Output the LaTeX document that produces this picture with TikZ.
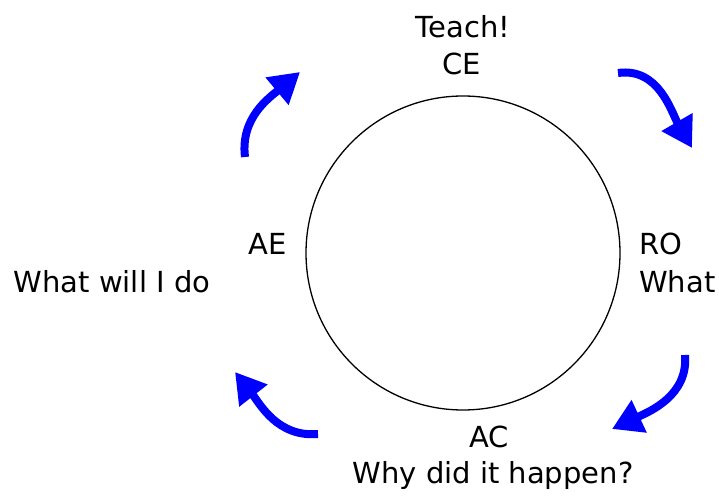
\documentclass[tikz,border=0pt]{standalone}
\usepackage{fontspec}
\setmainfont{DejaVu Sans}
\usetikzlibrary{arrows.meta, positioning}

\begin{document}
\begin{tikzpicture}
        [
        x=1pt, y=1pt,
        txt/.style={inner sep=0pt, font=\fontsize{29}{35}\selectfont},
        ring/.style={draw, circle, line width=1.3pt, minimum size=314pt, inner sep=0pt},
        arrow/.style={-{Triangle[length=30pt, width=34pt]}, line width=8pt, blue}
        ]

        \useasboundingbox (0,0) rectangle (719,498);

        \node[ring] (cycle) at (463,245) {};

        \node[txt, anchor=base] (teach) at (463,460) {Teach!};
        \node[txt, anchor=base] (ce) at (462,423) {CE};
        \node[txt, anchor=base] (ae) at (268,243) {AE};
        \node[txt, anchor=base] (aewhat) at (112,205) {What will I do};
        \node[txt, anchor=base west] (ro) at (639,243) {RO};
        \node[txt, anchor=base west] (rowhat) at (639,205) {What};
        \node[txt, anchor=base] (ac) at (489,51) {AC};
        \node[txt, anchor=base] (acwhy) at (493,15) {Why did it happen?};

        \coordinate (t1) at (245,341);
        \coordinate (h1) at (300,426);
        \coordinate (t2) at (618,425);
        \coordinate (h2) at (692,350);
        \coordinate (t3) at (685,143);
        \coordinate (h3) at (612,69);
        \coordinate (t4) at (318,64);
        \coordinate (h4) at (235,126);

        \draw[arrow] (t1) to[out=97, in=220] (h1);
        \draw[arrow] (t2) to[out=8, in=120] (h2);
        \draw[arrow] (t3) to[out=-85, in=25] (h3);
        \draw[arrow] (t4) to[out=185, in=-52] (h4);

    \end{tikzpicture}
\end{document}
